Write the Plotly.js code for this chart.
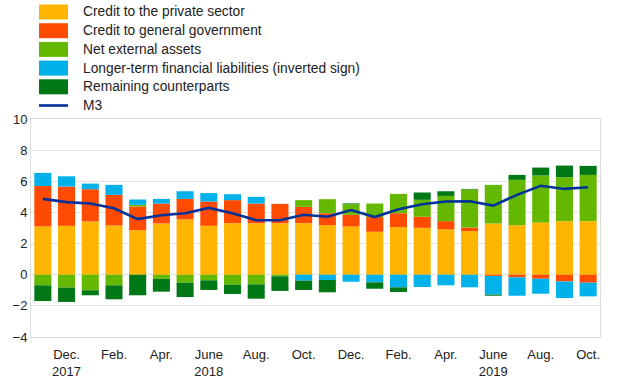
<!DOCTYPE html>
<html>
<head>
<meta charset="utf-8">
<script src="https://cdn.plot.ly/plotly-3.0.1.min.js"></script>
<style>
  html, body { margin: 0; padding: 0; background: #fff; }
  #chart { width: 620px; height: 387px; }
</style>
</head>
<body>
<div id="chart"></div>
<script>
// ---- Data ----
var months = ["2017-11","2017-12","2018-01","2018-02","2018-03","2018-04","2018-05","2018-06",
              "2018-07","2018-08","2018-09","2018-10","2018-11","2018-12","2019-01","2019-02",
              "2019-03","2019-04","2019-05","2019-06","2019-07","2019-08","2019-09","2019-10"];

var creditPrivate = [3.10,3.14,3.42,3.16,2.86,3.29,3.55,3.14,3.31,3.31,3.31,3.31,
                     3.18,3.10,2.76,3.06,3.01,2.91,2.80,3.29,3.18,3.35,3.44,3.44];
var creditGovernment = [2.60,2.52,2.07,1.97,1.52,1.28,1.32,1.56,1.48,1.26,1.24,1.05,
                        0.77,0.75,0.94,0.89,0.71,0.53,0.23,-0.08,-0.17,-0.26,-0.43,-0.51];
var netExternal = [-0.68,-0.83,-1.00,-0.68,0.11,-0.26,-0.51,-0.36,-0.64,-0.62,-0.10,0.43,
                   0.90,0.68,0.87,1.24,1.09,1.62,2.44,2.48,2.91,3.02,2.82,2.97];
var longerTerm = [0.84,0.66,0.36,0.64,0.34,0.30,0.49,0.54,0.38,0.43,0.00,-0.38,
                  -0.34,-0.45,-0.49,-0.81,-0.79,-0.68,-0.81,-1.20,-1.18,-0.96,-1.07,-0.88];
var remaining = [-1.01,-0.92,-0.32,-0.90,-1.32,-0.83,-0.92,-0.62,-0.60,-0.92,-0.94,-0.60,
                 -0.79,0.05,-0.41,-0.30,0.47,0.30,0.04,-0.07,0.32,0.51,0.75,0.58];
var m3 = [4.87,4.66,4.57,4.27,3.57,3.82,3.95,4.29,3.95,3.50,3.50,3.85,
          3.72,4.15,3.70,4.21,4.53,4.70,4.72,4.44,5.13,5.71,5.51,5.62];

var tickMonths = ["2017-12","2018-02","2018-04","2018-06","2018-08","2018-10",
                  "2018-12","2019-02","2019-04","2019-06","2019-08","2019-10"];
var tickLabels = ["Dec.<br>2017","Feb.","Apr.","June<br>2018","Aug.","Oct.",
                  "Dec.","Feb.","Apr.","June<br>2019","Aug.","Oct."];

var seriesNames = ["Credit to the private sector","Credit to general government",
                   "Net external assets","Longer-term financial liabilities (inverted sign)",
                   "Remaining counterparts"];
var lineName = "M3";

// ---- Styles ----
var barColors = ["#FFB400","#FF4B00","#65B800","#00B1EA","#007816"];
var lineColor = "#003299";
var fontFamily = "'Liberation Sans', Arial, sans-serif";

var seriesData = [creditPrivate, creditGovernment, netExternal, longerTerm, remaining];
var traces = seriesData.map(function (vals, i) {
  return {
    type: "bar", x: months, y: vals, name: seriesNames[i],
    marker: { color: barColors[i], line: { width: 0 } },
    showlegend: false, hoverinfo: "name+y"
  };
});
traces.push({
  type: "scatter", mode: "lines", x: months, y: m3, name: lineName,
  line: { color: lineColor, width: 2.6 }, showlegend: false
});

// ---- Layout / custom legend ----
var W = 620, H = 387, ML = 31, MR = 20, MT = 119, MB = 50;
var PW = W - ML - MR, PH = H - MT - MB;
function px2x(px) { return (px - ML) / PW; }
function px2y(py) { return (H - MB - py) / PH; }

var shapes = [], annotations = [];
var rowY = [12, 30.7, 49.4, 68.1, 86.8, 105.5];
var legendFont = { family: fontFamily, size: 13.8, color: "#222" };
seriesNames.forEach(function (nm, i) {
  shapes.push({
    type: "rect", xref: "paper", yref: "paper",
    x0: px2x(39), x1: px2x(68), y0: px2y(rowY[i] - 7.5), y1: px2y(rowY[i] + 7.5),
    fillcolor: barColors[i], line: { width: 0 }
  });
  annotations.push({
    xref: "paper", yref: "paper", x: px2x(81), y: px2y(rowY[i]),
    xanchor: "left", yanchor: "middle", showarrow: false, text: nm,
    font: legendFont
  });
});
shapes.push({
  type: "line", xref: "paper", yref: "paper",
  x0: px2x(39), x1: px2x(68), y0: px2y(rowY[5]), y1: px2y(rowY[5]),
  line: { color: lineColor, width: 2.6 }
});
annotations.push({
  xref: "paper", yref: "paper", x: px2x(81), y: px2y(rowY[5]),
  xanchor: "left", yanchor: "middle", showarrow: false, text: lineName,
  font: legendFont
});

var layout = {
  width: W, height: H,
  margin: { l: ML, r: MR, t: MT, b: MB, pad: 0 },
  paper_bgcolor: "#fff", plot_bgcolor: "#fff",
  barmode: "relative", bargap: 0.28,
  showlegend: false,
  font: { family: fontFamily, size: 13, color: "#222" },
  xaxis: {
    type: "category", tickmode: "array", tickvals: tickMonths, ticktext: tickLabels,
    showgrid: false, ticks: "", showline: true, mirror: true, linecolor: "#dcdcdc", linewidth: 1,
    ticklabelstandoff: 5,
    tickfont: { family: fontFamily, size: 13, color: "#222" }, fixedrange: true
  },
  yaxis: {
    range: [-4, 10], tickvals: [-4,-2,0,2,4,6,8,10], showgrid: true, gridcolor: "#e3e3e3",
    zeroline: true, zerolinecolor: "#e3e3e3", zerolinewidth: 1,
    showline: true, mirror: true, linecolor: "#dcdcdc", linewidth: 1, ticks: "",
    tickfont: { family: fontFamily, size: 13, color: "#222" }, fixedrange: true
  },
  shapes: shapes, annotations: annotations
};

Plotly.newPlot("chart", traces, layout, { displayModeBar: false, staticPlot: true });
</script>
</body>
</html>
